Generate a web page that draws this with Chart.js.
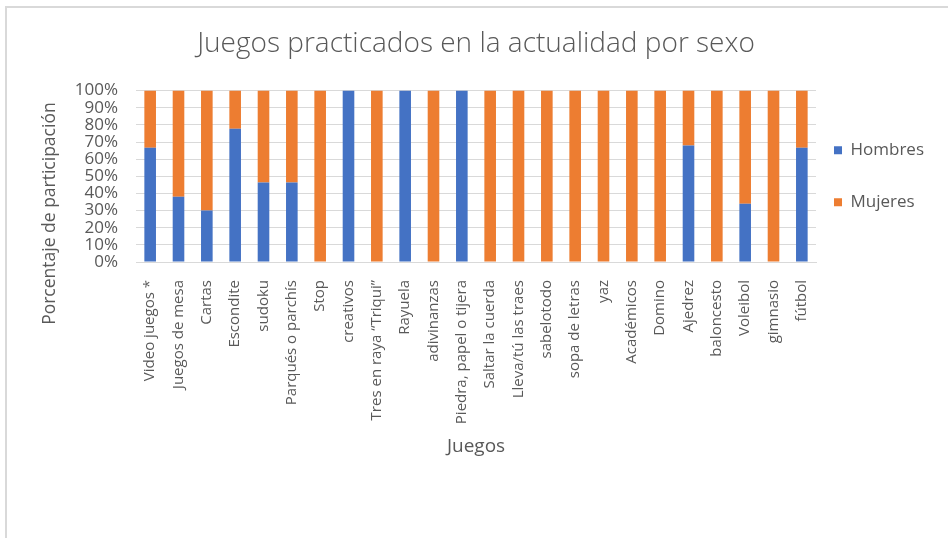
<!DOCTYPE html>
<html lang="es">
<head>
<meta charset="utf-8">
<title>Juegos practicados en la actualidad por sexo</title>
<script src="https://cdn.jsdelivr.net/npm/chart.js@4.4.1/dist/chart.umd.min.js"></script>
<style>
  html, body { margin: 0; padding: 0; background: #fff; overflow: hidden; }
  .frame {
    position: absolute; left: 5px; top: 6px; width: 980px; height: 580px;
    border-left: 2px solid #d9d9d9; border-top: 2px solid #d9d9d9;
  }
  .chart-box { position: absolute; left: 0; top: 0; width: 948px; height: 538px; }
</style>
</head>
<body>
<div class="frame"></div>
<div class="chart-box"><canvas id="juegosChart" width="948" height="538"></canvas></div>
<script>
const categorias = [
    'Video juegos *', 'Juegos de mesa', 'Cartas', 'Escondite', 'sudoku',
    'Parqués o parchís', 'Stop', 'creativos', 'Tres en raya “Triqui”', 'Rayuela',
    'adivinanzas', 'Piedra, papel o tijera', 'Saltar la cuerda', 'Lleva/tú las traes',
    'sabelotodo', 'sopa de letras', 'yaz', 'Académicos', 'Domino', 'Ajedrez',
    'baloncesto', 'Voleibol', 'gimnasio', 'fútbol'
];

// porcentaje de participación (%)
const hombres = [66.7, 38, 30, 77.8, 46.4, 46.4, 0, 100, 0, 100, 0, 100,
                 0, 0, 0, 0, 0, 0, 0, 68, 0, 34, 0, 66.7];
const mujeres = [33.3, 62, 70, 22.2, 53.6, 53.6, 100, 0, 100, 0, 100, 0,
                 100, 100, 100, 100, 100, 100, 100, 32, 100, 66, 100, 33.3];

const ejeYMax = 100;
const ejeYPaso = 10;

const fontFam = "'Open Sans', sans-serif";
const gris = '#595959';

// titulo del eje Y (centrado como en el original, algo mas abajo que el eje)
const tituloEjeY = {
    id: 'tituloEjeY',
    afterDraw(chart) {
        const { ctx, chartArea } = chart;
        ctx.save();
        ctx.translate(chartArea.left - 86, chartArea.top + 123);
        ctx.rotate(-Math.PI / 2);
        ctx.font = '17.5px ' + fontFam;
        ctx.fillStyle = gris;
        ctx.textAlign = 'center';
        ctx.textBaseline = 'middle';
        ctx.fillText('Porcentaje de participación', 0, 0);
        ctx.restore();
    }
};

const ctx = document.getElementById('juegosChart');
new Chart(ctx, {
    type: 'bar',
    data: {
        labels: categorias,
        datasets: [
            { label: 'Hombres', data: hombres, backgroundColor: '#4472C4' },
            { label: 'Mujeres', data: mujeres, backgroundColor: '#ED7D31' }
        ]
    },
    options: {
        responsive: false,
        animation: false,
        devicePixelRatio: 1,
        layout: { padding: { left: 7, top: 0, right: 14, bottom: 76 } },
        datasets: { bar: { barPercentage: 0.41, categoryPercentage: 1 } },
        scales: {
            x: {
                stacked: true,
                grid: { display: false },
                border: { color: '#d9d9d9' },
                ticks: {
                    color: gris, font: { family: fontFam, size: 15 },
                    minRotation: 90, maxRotation: 90, padding: 10, autoSkip: false
                },
                title: {
                    display: true, text: 'Juegos', color: gris,
                    font: { family: fontFam, size: 19 }, padding: { top: 0, bottom: 4 }
                },
                afterFit(s) { s.height = 200; }
            },
            y: {
                stacked: true,
                min: 0, max: ejeYMax,
                grid: { color: '#d9d9d9', drawTicks: false },
                border: { display: false },
                ticks: {
                    stepSize: ejeYPaso, padding: 18, color: gris, autoSkip: false,
                    font: { family: fontFam, size: 17 },
                    callback: v => v + '%'
                },
                afterFit(s) { s.width = 129; }
            },
            y2: {
                position: 'right',
                grid: { display: false },
                border: { display: false },
                ticks: { display: false },
                afterFit(s) { s.width = 9; }
            }
        },
        plugins: {
            title: {
                display: true, fullSize: false,
                text: 'Juegos practicados en la actualidad por sexo',
                color: gris, font: { family: fontFam, size: 28, weight: 300 },
                padding: { top: 27, bottom: 30 }
            },
            legend: {
                position: 'right',
                fullSize: false,
                labels: {
                    boxWidth: 8, boxHeight: 8, padding: 9, color: gris,
                    font: { family: fontFam, size: 17 },
                    generateLabels(chart) {
                        const items = Chart.defaults.plugins.legend.labels.generateLabels(chart);
                        // hueco entre las dos entradas
                        items.splice(1, 0, { text: '', fillStyle: 'rgba(0,0,0,0)',
                            strokeStyle: 'rgba(0,0,0,0)', lineWidth: 0, hidden: false });
                        return items;
                    }
                }
            },
            tooltip: { enabled: false }
        }
    },
    plugins: [tituloEjeY]
});
</script>
</body>
</html>
